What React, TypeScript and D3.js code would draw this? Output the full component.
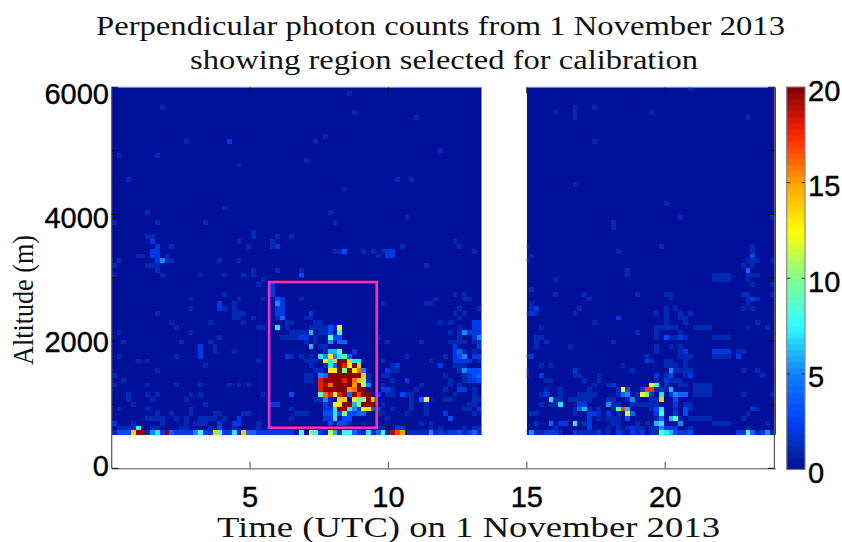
import React, { useEffect, useRef } from 'react';
import * as d3 from 'd3';

// every row below reads [range gate, photon count, ...time bins]
type CountRow = number[];

const altitudeTicks = [0, 2000, 4000, 6000];
const timeTicks = [5, 10, 15, 20];
const minorAltitudeTicks = [1000, 3000, 5000];
const colorbarTicks = [0, 5, 10, 15, 20];

const titleLines = ['Perpendicular photon counts from 1 November 2013', 'showing region selected for calibration'];

// jet-like colormap as it looks in the picture
const colorStops = [0, 1, 2.5, 5, 7.5, 10, 12.5, 15, 17.5, 20];
const colorValues = ['#00109a', '#0028ae', '#0040f8', '#1080ff', '#30ffff', '#80ff90', '#ffff00', '#ffa000', '#ff2400', '#800000'];

const binHours = 0.1735;
const binMeters = 75.3;
const firstGateAltitude = 521;

const highScatter: CountRow[] = [
  [72, 1, 120], [71, 1, 49], [68, 1, 10, 100, 96], [67, 1, 50, 92, 96, 112], [66, 1, 63, 96, 132], [62, 1, 44],
  [61, 1, 15, 42, 100], [61, 2, 24], [59, 1, 68], [58, 1, 1, 9], [57, 1, 40], [56, 1, 26], [53, 1, 3, 59, 62],
  [52, 1, 96], [51, 1, 48], [48, 1, 115], [47, 1, 23], [46, 1, 7, 45], [45, 1, 61, 118, 137],
  [44, 1, 0, 9, 19, 46, 104], [43, 1, 104],
];

const morningCounts: CountRow[] = [
  [42, 1, 29], [41, 1, 7, 8, 29], [40, 2, 8], [40, 1, 26], [39, 2, 9], [39, 1, 12, 28], [38, 2, 8, 9],
  [37, 1, 5, 6, 11], [37, 2, 8, 9], [36, 2, 9], [36, 5, 10], [36, 1, 1, 11, 12, 22, 26], [35, 1, 0, 7, 8, 9],
  [34, 1, 9, 29], [33, 1, 0, 10, 18, 23, 27, 29], [32, 1, 31], [31, 1, 30], [29, 1, 23], [28, 1, 16, 26, 31],
  [27, 2, 22], [27, 1, 25], [26, 1, 16, 23, 25], [26, 2, 22], [25, 1, 9, 25, 26, 27], [24, 1, 25, 26, 29],
  [23, 1, 12, 20, 27], [22, 1, 13, 30, 31], [21, 1, 1, 16], [20, 1, 22], [19, 1, 2, 14, 20], [18, 2, 18], [18, 1, 21],
  [17, 2, 18], [17, 1, 21, 25], [16, 2, 18], [16, 1, 1, 13], [15, 1, 5, 7, 30], [14, 1, 19], [13, 1, 9], [12, 1, 0],
  [11, 1, 2], [10, 1, 0, 7, 13, 18, 24, 26, 28], [8, 1, 3, 7, 9, 16, 18, 31], [7, 1, 3, 8, 15], [6, 1, 4, 19],
  [5, 1, 1, 7, 16], [4, 1, 9, 12, 16, 21, 22, 27, 28], [3, 1, 7, 8, 9, 10, 13, 15, 18, 19, 20, 21, 23], [3, 2, 26],
  [2, 2, 0, 22, 25, 26], [2, 1, 4, 10, 15, 17, 18, 19, 30], [1, 1, 1, 2, 3, 4, 8, 9, 14, 15, 20, 25, 30], [1, 3, 22],
  [1, 8, 5],
];

const cloudLow: CountRow[] = [
  [41, 1, 34, 37], [40, 1, 33, 71], [39, 1, 33, 60, 72], [39, 2, 34], [38, 1, 46, 47, 52, 54, 56, 75], [38, 3, 48],
  [38, 2, 57, 58], [37, 1, 55], [37, 2, 57, 58], [35, 1, 65], [34, 1, 34, 39], [33, 3, 39], [32, 1, 31],
  [31, 2, 33], [30, 2, 33], [29, 2, 33], [29, 1, 71, 73], [28, 3, 34], [28, 2, 35], [28, 1, 39, 67, 73, 74],
  [27, 5, 34], [27, 2, 35], [27, 1, 56, 65, 66], [26, 2, 34, 35], [26, 1, 72, 76], [25, 2, 34, 35, 41],
  [25, 1, 71, 73], [24, 4, 35], [24, 1, 34, 40, 41, 72], [23, 1, 36, 37, 42, 43, 68, 70], [23, 2, 75, 76],
  [22, 7, 34], [22, 1, 36, 41, 42, 43, 44, 46, 72], [22, 2, 75, 76], [21, 1, 37, 38, 39, 40, 43, 44, 70, 72],
  [21, 2, 74, 75, 76], [21, 5, 73], [20, 1, 35, 36, 37, 38, 42, 55, 72], [20, 2, 39, 40, 75], [20, 5, 76],
  [19, 1, 40, 42, 57, 64, 70, 71, 72, 73, 75, 76], [18, 1, 43, 44], [18, 2, 71, 76], [17, 2, 71, 50], [17, 1, 44, 73, 75],
  [17, 4, 72], [16, 2, 36, 71, 75, 76], [16, 1, 37, 39, 41, 61, 69], [16, 3, 72], [16, 5, 73], [15, 1, 40, 41, 42, 56, 66, 76],
  [15, 2, 71, 72, 73, 74], [14, 1, 41, 44, 58, 71, 72, 73], [14, 2, 59, 68], [13, 1, 42, 43, 58, 59, 72], [13, 2, 57],
  [13, 3, 74, 75, 76], [13, 5, 73], [12, 1, 40, 41, 56, 57, 53, 69, 73], [12, 2, 74], [12, 3, 75], [12, 4, 76],
  [11, 1, 40, 41, 53, 58, 70, 73], [11, 2, 61, 74, 75], [11, 3, 76], [10, 1, 53, 56, 64, 70, 72],
  [9, 2, 56, 57, 72, 73], [9, 1, 58, 63, 69, 75], [8, 3, 37, 60], [8, 1, 31, 57, 58, 61, 62, 71, 75], [8, 2, 55],
  [7, 1, 42, 43, 45, 62, 66, 69, 70, 75, 76], [7, 5, 44], [7, 4, 64], [6, 2, 33, 34, 44], [6, 1, 45, 56, 62, 65, 74, 75],
  [5, 1, 37, 58, 62, 65, 73, 74], [5, 2, 44, 45, 51, 55, 76], [4, 1, 38, 39, 40, 55, 56, 61, 65, 75], [4, 3, 44, 45, 47, 49, 50],
  [4, 4, 51, 52], [4, 2, 69], [3, 1, 37, 57], [3, 2, 44, 45], [3, 3, 48, 49, 70], [2, 3, 45, 47, 48], [2, 1, 49, 52, 64, 66],
  [1, 1, 55, 56, 66, 68, 73, 75, 76], [1, 2, 59, 60],
];

const cloudBright: CountRow[] = [
  [22, 12, 47], [22, 3, 45], [21, 6, 41], [21, 3, 45], [21, 8, 47], [20, 9, 45], [20, 3, 46, 47], [19, 5, 45],
  [19, 4, 47, 48], [18, 6, 41], [17, 6, 45, 46], [17, 9, 47], [16, 7, 43, 47], [16, 5, 44, 46], [16, 13, 45],
  [16, 9, 48], [16, 4, 49], [15, 13, 44], [15, 7, 45, 50, 51], [15, 14, 46, 49], [15, 20, 47, 48], [14, 7, 45],
  [14, 4, 46], [14, 20, 47, 50], [14, 18, 48], [14, 12, 49], [14, 14, 51], [13, 13, 45, 46, 50], [13, 20, 47, 49],
  [13, 10, 48], [13, 16, 51], [13, 5, 52], [12, 5, 43], [12, 4, 44], [12, 20, 45, 46, 47, 48, 49, 50, 51], [12, 14, 52],
  [11, 18, 43, 48], [11, 20, 44, 45, 46, 47, 49], [11, 16, 50], [11, 14, 51], [11, 10, 52], [10, 18, 43], [10, 19, 44],
  [10, 16, 45], [10, 20, 46, 47, 48, 49, 51], [10, 15, 50], [10, 11, 52], [10, 5, 53], [9, 18, 43],
  [9, 20, 44, 45, 46, 47, 48, 51, 52], [9, 15, 49], [9, 16, 50], [8, 9, 43], [8, 16, 44], [8, 18, 45, 47], [8, 11, 46],
  [8, 20, 48, 50, 52, 53], [8, 4, 49], [8, 17, 51], [7, 14, 47, 48, 54], [7, 13, 50], [7, 9, 51], [7, 10, 52], [7, 20, 53],
  [7, 12, 65], [6, 13, 46, 47], [6, 20, 48, 49, 52, 53, 54], [6, 6, 50], [6, 10, 51], [5, 7, 46, 49], [5, 20, 47, 48],
  [5, 5, 50], [5, 13, 52, 53], [5, 4, 54], [4, 7, 46], [4, 10, 48], [3, 7, 46],
];

const eveningCounts: CountRow[] = [
  [39, 1, 86, 114, 133], [38, 1, 105, 133], [37, 1, 87], [37, 3, 133], [36, 1, 86, 132, 133, 134, 137], [35, 1, 131, 133],
  [34, 4, 132], [34, 1, 107], [33, 1, 107, 132, 133, 134, 125, 126, 127, 128], [32, 1, 92, 132, 125, 126, 127, 128],
  [31, 1, 133, 137], [30, 1, 87], [29, 1, 92, 98, 109, 115, 116, 131, 132, 137], [28, 1, 99, 116, 132, 134], [28, 2, 133],
  [27, 1, 87, 132], [26, 1, 87, 97, 115, 117, 131, 133], [26, 2, 88], [25, 2, 87], [25, 1, 86, 88, 96, 113, 115, 118, 120],
  [24, 2, 105], [24, 1, 115, 118, 119], [23, 1, 100, 115, 119, 134], [22, 1, 89, 113, 114, 115, 116, 117, 121, 122, 123, 124, 132, 136],
  [21, 1, 109, 113, 118], [20, 1, 88, 89, 113, 116, 117, 119, 125, 126, 127, 128], [20, 2, 118], [20, 3, 115],
  [19, 1, 88, 90, 104], [18, 1, 88, 95, 113, 116, 118], [17, 1, 113, 118, 130, 131], [17, 2, 119, 125, 126, 127, 128],
  [16, 1, 86, 111, 118, 119, 120, 125, 126, 127, 128], [16, 2, 87, 130], [15, 1, 112, 115, 116, 119], [15, 2, 111],
  [14, 1, 89, 91, 106, 115, 116, 117, 119], [13, 1, 86, 108, 117, 118, 119, 120, 131, 134], [13, 2, 96],
  [12, 1, 86, 96, 97, 101, 115, 119, 135], [12, 2, 89, 113, 120], [12, 3, 116], [11, 1, 90, 91, 98, 101, 113, 116, 117, 118],
  [11, 2, 115], [10, 1, 100, 103, 115, 118, 119, 121, 122, 123, 124], [10, 2, 104], [9, 1, 90, 93, 99, 105, 113, 114, 115, 121, 122, 123, 124],
  [9, 2, 110], [8, 1, 89, 93, 97, 98, 99, 100, 105, 109, 131, 137, 121, 122, 123, 124], [8, 2, 90, 112, 116],
  [7, 1, 92, 93, 95, 96, 97, 98, 99, 103, 104, 107, 112, 113], [7, 3, 117], [6, 1, 89, 91, 92, 105, 104, 108, 109, 110, 111, 112, 113, 119, 120],
  [6, 2, 97, 98, 117], [5, 1, 96, 99, 101, 104, 112, 117, 120, 134], [5, 3, 113, 119], [5, 2, 133], [4, 1, 87, 88, 96, 101, 105, 132],
  [4, 2, 99, 100, 103, 113, 117], [4, 3, 119], [3, 1, 99, 101, 103, 104, 105, 113, 118, 120, 121, 122, 123, 124, 131],
  [3, 2, 99], [2, 1, 88, 98, 104, 105, 109, 111, 136, 125, 126, 127, 128], [2, 2, 93, 94, 99], [1, 1, 92, 103, 105, 107, 109, 110, 112, 113, 120, 132],
  [1, 2, 99, 108, 115, 116, 117],
];

const eveningBright: CountRow[] = [
  [13, 5, 116], [10, 13, 112], [10, 8, 113], [9, 13, 106], [9, 3, 107], [9, 17, 111, 112], [9, 6, 116], [8, 4, 106, 118, 119],
  [8, 5, 107, 117], [8, 12, 110], [8, 9, 111], [8, 7, 114], [7, 5, 108], [7, 7, 91], [7, 14, 114], [6, 7, 93], [6, 5, 103],
  [5, 9, 105], [5, 17, 106], [5, 6, 107, 98], [5, 4, 97], [5, 7, 114], [4, 11, 107], [4, 4, 108], [4, 8, 114], [3, 3, 107],
  [3, 4, 114], [3, 6, 116], [3, 9, 117], [2, 7, 96, 114], [2, 4, 91], [2, 6, 113], [2, 5, 118], [1, 5, 114],
];

// lowest gate, [count, ...time bins]
const surfaceCounts: number[][] = [
  [1, 0, 7, 26, 44, 47, 52, 54, 57, 61, 62, 63, 64, 65, 67, 69, 73, 76, 86, 88, 89, 93, 97, 98, 99, 100, 103, 106, 109, 112, 113, 134, 137],
  [2, 10, 13, 14, 15, 16, 19, 20, 23, 24, 30, 31, 32, 33, 34, 35, 36, 37, 43, 51, 68, 70, 71, 74, 90, 91, 92, 96, 101, 105, 108, 110, 118, 119, 130, 131, 135],
  [3, 1, 2, 3, 72, 117, 120], [4, 12, 28, 29, 50, 55, 75, 133], [5, 8, 17, 66, 87, 136], [6, 46, 116], [7, 9, 25, 53, 115],
  [8, 18, 22, 39, 42, 48, 49, 56, 132], [9, 114], [10, 41], [11, 45], [14, 4, 21, 27], [15, 60], [17, 59], [19, 58], [20, 5, 6, 11],
];

const countRowCells = (rows: CountRow[]) =>
  rows.flatMap(([row, count, ...cols]) => cols.map(col => ({ col, row, count })));

const surfaceCells = surfaceCounts.flatMap(([count, ...cols]) => cols.map(col => ({ col, row: 0, count })));

export default function App() {
  const svgRef = useRef<SVGSVGElement>(null);

  useEffect(() => {
    const svg = d3.select(svgRef.current);
    svg.selectAll('*').remove();

    const x = d3.scaleLinear().domain([0, 24]).range([111.7, 775.9]);
    const y = d3.scaleLinear().domain([0, 6000]).range([468.3, 87.3]);
    const yLabel = d3.scaleLinear().domain([0, 6000]).range([466, 93.5]);
    const cb = d3.scaleLinear().domain([0, 20]).range([469.5, 87]);

    const jet = d3.scaleLinear<string>().domain(colorStops).range(colorValues);
    const level = d3.scaleQuantize<number>().domain([0, 20]).range(d3.range(64));
    const levelColor = (c: number) => jet((level(Math.min(c, 19.99)) + 0.5) * 20 / 64);

    const panels = [[0, 13.37], [15, 24]];
    const topAlt = 6000;

    const defs = svg.append('defs');
    panels.forEach((p, i) => {
      defs.append('clipPath').attr('id', 'panel' + i).append('rect')
        .attr('x', x(p[0])).attr('width', x(p[1]) - x(p[0]))
        .attr('y', y(topAlt)).attr('height', y(firstGateAltitude) - y(topAlt));
    });
    // the reference is a slightly soft upscaled screenshot
    defs.append('filter').attr('id', 'soft').append('feGaussianBlur').attr('stdDeviation', 0.35);

    // the counts, later lists win over earlier ones
    const cells = new Map<string, { col: number; row: number; count: number }>();
    [highScatter, morningCounts, cloudLow, eveningCounts, cloudBright, eveningBright].forEach(list => {
      countRowCells(list).forEach(c => cells.set(c.col + '_' + c.row, c));
    });
    surfaceCells.forEach(c => cells.set(c.col + '_' + c.row, c));
    const cellList = Array.from(cells.values());

    panels.forEach((p, i) => {
      const clip = svg.append('g').attr('clip-path', `url(#panel${i})`);
      clip.append('rect')
        .attr('x', x(p[0])).attr('width', x(p[1]) - x(p[0]))
        .attr('y', y(topAlt)).attr('height', y(firstGateAltitude) - y(topAlt))
        .attr('fill', colorValues[0]);
      const g = clip.append('g').attr('filter', 'url(#soft)');
      g.selectAll('rect.cell')
        .data(cellList.filter(c => c.col * binHours < p[1] && (c.col + 1) * binHours > p[0]))
        .enter().append('rect')
        .attr('class', 'cell')
        .attr('x', d => x(d.col * binHours))
        .attr('width', x(binHours) - x(0))
        .attr('y', d => y(firstGateAltitude + (d.row + 1) * binMeters))
        .attr('height', y(0) - y(binMeters))
        .attr('fill', d => levelColor(d.count))
        .attr('shape-rendering', 'crispEdges');
      // pale top edge only exists over the data panels
      svg.append('line').attr('x1', x(p[0])).attr('x2', x(p[1])).attr('y1', y(topAlt)).attr('y2', y(topAlt))
        .attr('stroke', '#7484d4').attr('stroke-width', 1);
    });

    // axes box
    const frame = svg.append('g');
    frame.append('line').attr('x1', x(0)).attr('x2', x(24)).attr('y1', y(0) + 0.4).attr('y2', y(0) + 0.4)
      .attr('stroke', '#8a8a8a').attr('stroke-width', 1.6);
    frame.append('line').attr('x1', x(0)).attr('x2', x(0)).attr('y1', y(0)).attr('y2', y(topAlt))
      .attr('stroke', '#555').attr('stroke-width', 1.2);
    frame.append('line').attr('x1', x(24) - 1.5).attr('x2', x(24) - 1.5).attr('y1', y(0)).attr('y2', y(topAlt))
      .attr('stroke', '#555').attr('stroke-width', 1.2);

    const tickFont = '"Liberation Sans", Arial, sans-serif';

    // time ticks bottom and top, altitude ticks on both sides
    timeTicks.forEach(t => {
      frame.append('line').attr('x1', x(t)).attr('x2', x(t)).attr('y1', y(0)).attr('y2', y(0) - 6.5).attr('stroke', '#666').attr('stroke-width', 1.2);
      frame.append('line').attr('x1', x(t)).attr('x2', x(t)).attr('y1', y(topAlt)).attr('y2', y(topAlt) + 6).attr('stroke', '#111');
      svg.append('text').attr('x', x(t)).attr('y', 507).attr('text-anchor', 'middle')
        .attr('font-family', tickFont).attr('font-size', 29).attr('fill', '#000')
        .attr('stroke', '#000').attr('stroke-width', 0.4).text(t);
    });
    [...altitudeTicks, ...minorAltitudeTicks].forEach(a => {
      frame.append('line').attr('x1', x(0)).attr('x2', x(0) + 6.5).attr('y1', y(a)).attr('y2', y(a)).attr('stroke', '#111');
      frame.append('line').attr('x1', x(24) - 1.5).attr('x2', x(24) - 8).attr('y1', y(a)).attr('y2', y(a)).attr('stroke', '#111');
    });
    altitudeTicks.forEach(a => {
      svg.append('text').attr('x', 109).attr('y', yLabel(a) + 10.4).attr('text-anchor', 'end')
        .attr('font-family', tickFont).attr('font-size', 29).attr('fill', '#000')
        .attr('stroke', '#000').attr('stroke-width', 0.4).text(a);
    });

    // calibration region
    const region = { t0: 5.684, t1: 9.575, a0: 639, a1: 2934 };
    svg.append('rect')
      .attr('x', x(region.t0) - 1.4).attr('y', y(region.a1) - 1.4)
      .attr('width', x(region.t1) - x(region.t0)).attr('height', y(region.a0) - y(region.a1))
      .attr('fill', 'none').attr('stroke', '#000').attr('stroke-width', 1.2);
    svg.append('rect')
      .attr('x', x(region.t0)).attr('y', y(region.a1))
      .attr('width', x(region.t1) - x(region.t0)).attr('height', y(region.a0) - y(region.a1))
      .attr('fill', 'none').attr('stroke', '#ea30cc').attr('stroke-width', 2.8);

    // colorbar
    const cbX = 786.7, cbW = 18.3;
    const levels = d3.range(64);
    svg.append('g').selectAll('rect').data(levels).enter().append('rect')
      .attr('x', cbX).attr('width', cbW)
      .attr('y', d => cb((d + 1) * 20 / 64))
      .attr('height', d => cb(d * 20 / 64) - cb((d + 1) * 20 / 64) + 0.5)
      .attr('fill', d => jet((d + 0.5) * 20 / 64));
    svg.append('rect').attr('x', cbX).attr('y', cb(20)).attr('width', cbW).attr('height', cb(0) - cb(20))
      .attr('fill', 'none').attr('stroke', '#808080').attr('stroke-width', 1.1);
    colorbarTicks.forEach(v => {
      if (v > 0 && v < 20) {
        svg.append('line').attr('x1', cbX).attr('x2', cbX + 3.5).attr('y1', cb(v)).attr('y2', cb(v)).attr('stroke', '#333');
        svg.append('line').attr('x1', cbX + cbW - 3.5).attr('x2', cbX + cbW).attr('y1', cb(v)).attr('y2', cb(v)).attr('stroke', '#333');
      }
      svg.append('text').attr('x', 808).attr('y', cb(v) + 3.2 + 10.4)
        .attr('font-family', tickFont).attr('font-size', 29).attr('fill', '#000')
        .attr('stroke', '#000').attr('stroke-width', 0.4).text(v);
    });

    // titles, computer modern is wider than anything installed so they get stretched
    const serif = '"Liberation Serif", "Times New Roman", serif';
    const title = [{ text: titleLines[0], cx: 440.5, y: 35, w: 689 }, { text: titleLines[1], cx: 444, y: 69.3, w: 508 }];
    title.forEach(t => {
      svg.append('text').attr('x', t.cx - t.w / 2).attr('y', t.y)
        .attr('textLength', t.w).attr('lengthAdjust', 'spacingAndGlyphs')
        .attr('font-family', serif).attr('font-size', 27).attr('fill', '#111').text(t.text);
    });
    svg.append('text').attr('x', 217).attr('y', 537.3)
      .attr('textLength', 503).attr('lengthAdjust', 'spacingAndGlyphs')
      .attr('font-family', serif).attr('font-size', 29).attr('fill', '#111').text('Time (UTC) on 1 November 2013');
    svg.append('text').attr('transform', 'translate(33,365) rotate(-90)')
      .attr('textLength', 130).attr('lengthAdjust', 'spacingAndGlyphs')
      .attr('font-family', serif).attr('font-size', 29).attr('fill', '#111').text('Altitude (m)');
  }, []);

  return (
    <svg
      ref={svgRef}
      width={842}
      height={542}
      style={{ position: 'absolute', left: 0, top: 0, display: 'block', background: '#fff' }}
    />
  );
}
